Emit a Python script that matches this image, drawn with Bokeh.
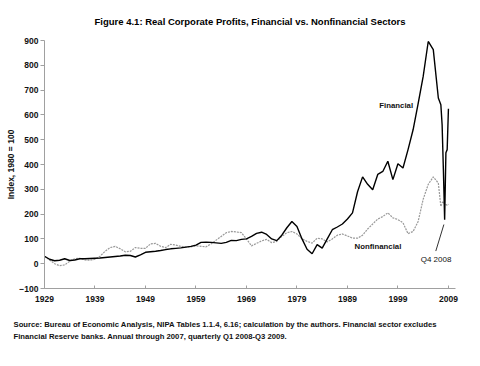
from bokeh.plotting import figure
from bokeh.models import Label, Range1d, FixedTicker, ColumnDataSource, Title
from bokeh.embed import file_html
from bokeh.resources import INLINE

# ---------------- data ----------------
years = list(range(1929, 2008))
financial_annual = [
    30, 18, 12, 14, 20, 13, 15, 20, 20, 21,
    22, 23, 25, 27, 29, 31, 34, 33, 27, 36,
    46, 48, 50, 53, 57, 60, 62, 64, 67, 70,
    75, 86, 87, 86, 84, 82, 86, 94, 93, 98,
    100, 110, 122, 127, 118, 100, 93, 115, 145, 170,
    150, 100, 58, 40, 77, 63, 100, 137, 148, 160,
    180, 205, 290, 350, 320, 298, 360, 372, 413, 339,
    403, 386, 460, 540, 645, 755, 896, 863, 668,
]
nonfinancial_annual = [
    30, 15, 0, -8, -5, 10, 20, 22, 15, 14,
    18, 30, 50, 65, 70, 60, 48, 50, 65, 62,
    62, 80, 82, 70, 65, 78, 75, 70, 67, 68,
    72, 70, 68, 80, 95, 110, 125, 130, 128, 125,
    100, 72, 82, 92, 98, 85, 90, 110, 125, 130,
    120, 100, 90, 83, 103, 100, 88, 100, 115, 120,
    112, 103, 103, 115, 140, 160, 180, 190, 205, 185,
    178, 165, 121, 130, 170, 260, 320, 350, 325,
]
quarters = ["Q1 2008", "Q2 2008", "Q3 2008", "Q4 2008", "Q1 2009", "Q2 2009", "Q3 2009"]
quarter_pos = [2007.5, 2007.75, 2008.0, 2008.25, 2008.5, 2008.75, 2009.0]
financial_quarterly = [641, 560, 380, 177, 447, 460, 625]
nonfinancial_quarterly = [231, 245, 251, 240, 238, 236, 240]

x_ticks = [1929, 1939, 1949, 1959, 1969, 1979, 1989, 1999, 2009]
y_ticks = [-100, 0, 100, 200, 300, 400, 500, 600, 700, 800, 900]

title_text = "Figure 4.1: Real Corporate Profits, Financial vs. Nonfinancial Sectors"
y_label = "Index, 1980 = 100"
source_1 = ("Source: Bureau of Economic Analysis, NIPA Tables 1.1.4, 6.16; calculation by the authors. "
            "Financial sector excludes")
source_2 = "Financial Reserve banks. Annual through 2007, quarterly Q1 2008-Q3 2009."

FONT = "Liberation Sans"

src = ColumnDataSource(dict(
    x=years + quarter_pos,
    fin=financial_annual + financial_quarterly,
    nonfin=nonfinancial_annual + nonfinancial_quarterly,
))

p = figure(width=464, height=356, output_backend="svg", toolbar_location=None,
           x_range=Range1d(1929, 2010.4), y_range=Range1d(-100, 900),
           min_border_left=44, min_border_right=9, min_border_top=40, min_border_bottom=68)
p.outline_line_color = None
p.background_fill_color = "white"
p.border_fill_color = "white"
p.xgrid.visible = False
p.ygrid.visible = False

p.title = Title(text=title_text, align="center", offset=-12, text_font=FONT, text_font_style="bold",
                text_font_size="9.5px", text_color="black", standoff=27)

p.add_layout(Title(text=source_1 + "\n" + source_2, align="left", offset=-31, standoff=27,
                   text_font=FONT, text_font_style="bold", text_font_size="7.7px",
                   text_line_height=1.35, text_color="#111111"), "below")

p.line("x", "nonfin", source=src, line_color="#999999", line_width=1.2, line_dash="2 1")
p.line("x", "fin", source=src, line_color="black", line_width=1.4)

# axes
for ax in (p.xaxis[0], p.yaxis[0]):
    ax.axis_line_color = "#a0a0a0"
    ax.major_tick_line_color = "#a0a0a0"
    ax.minor_tick_line_color = None
    ax.major_label_text_font = FONT
    ax.major_label_text_font_style = "bold"
    ax.major_label_text_font_size = "8.5px"
    ax.major_label_text_color = "#111111"

p.xaxis.ticker = FixedTicker(ticks=x_ticks)
p.xaxis.major_tick_in = 3
p.xaxis.major_tick_out = 0
p.xaxis.major_label_standoff = 7

p.yaxis.ticker = FixedTicker(ticks=y_ticks)
p.yaxis.major_tick_in = 0
p.yaxis.major_tick_out = 4
p.yaxis.major_label_standoff = 2
p.yaxis.axis_label = y_label
p.yaxis.axis_label_text_font = FONT
p.yaxis.axis_label_text_font_style = "bold"
p.yaxis.axis_label_text_font_size = "8.5px"
p.yaxis.axis_label_text_color = "#111111"
p.yaxis.axis_label_standoff = 0

# in-plot labels
p.add_layout(Label(x=1995.3, y=638, text="Financial", text_font=FONT, text_font_style="bold",
                   text_font_size="7.8px", text_align="left", text_baseline="middle",
                   text_color="#111111"))
p.add_layout(Label(x=1990.4, y=69, text="Nonfinancial", text_font=FONT, text_font_style="bold",
                   text_font_size="7.8px", text_align="left", text_baseline="middle",
                   text_color="#111111"))
p.add_layout(Label(x=2003.5, y=17, text=quarters[3], text_font=FONT,
                   text_font_size="8px", text_align="left", text_baseline="middle",
                   text_color="#111111"))
p.segment(x0=[2006.5], y0=[51], x1=[2008.1], y1=[158], line_color="#333333", line_width=1)

open("out.html", "w").write(file_html(p, INLINE))
